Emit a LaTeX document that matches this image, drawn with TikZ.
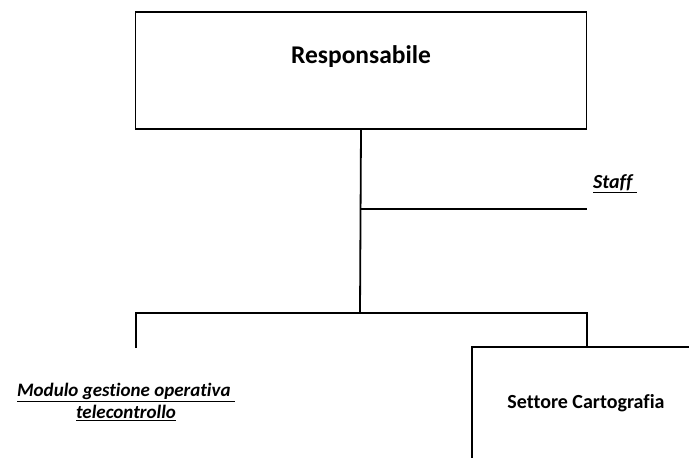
\documentclass[tikz,border=0pt]{standalone}
\usepackage{fontspec}
\setmainfont{Carlito}[Ligatures=NoCommon]
\usetikzlibrary{positioning}
\begin{document}
\begin{tikzpicture}[x=1pt,y=-1pt,
    orgline/.style={line width=1.8pt},
    unit/.style={font=\fontsize{20}{24}\selectfont\bfseries},
    office/.style={font=\fontsize{19}{22}\selectfont\bfseries\itshape,align=center}]
\useasboundingbox (0,0) rectangle (689,458);

% vertice
\node[draw,orgline,minimum width=451pt,minimum height=117pt,inner sep=0pt] (resp) at (361,70.5) {};
\node[font=\fontsize{25.5}{30}\selectfont\bfseries] (resptext) at (361,57) {Responsabile};

% staff
\coordinate (staffjoin) at (360,209);
\coordinate (staffend) at (587,209);
\node[office,font=\fontsize{20}{24}\selectfont\bfseries\itshape] (staff) at (615,184) {\underline{Staff\ }};

% livello inferiore
\coordinate (bus) at (360,313);
\coordinate (busleft) at (136,313);
\coordinate (busright) at (587,313);
\coordinate (modtop) at (136,348);
\coordinate (settop) at (587,348);
\node[office] (modulo) at (126,402) {\underline{Modulo gestione operativa\ }\\\underline{telecontrollo}};
\node[unit] (settore) at (586,403) {Settore Cartografia};

\draw[orgline] (resp.south) -- (bus);
\draw[orgline] (staffjoin) -- (staffend);
\draw[orgline] (modtop) -- (busleft) -- (busright) -- (settop);
% riquadro tagliato dal bordo
\draw[orgline] (472,458) -- (472,347) -- (689,347);
\end{tikzpicture}
\end{document}
